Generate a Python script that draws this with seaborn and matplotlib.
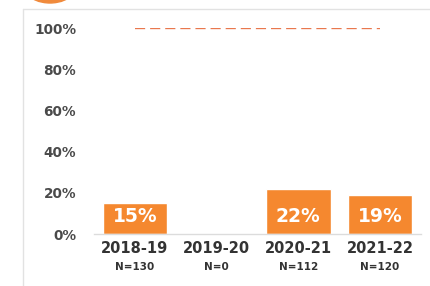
import numpy as np
import pandas as pd
import matplotlib
matplotlib.use("Agg")
import matplotlib.pyplot as plt
from matplotlib.patches import Ellipse
from matplotlib.lines import Line2D
from matplotlib.transforms import blended_transform_factory
import seaborn as sns

# chart data
years = ["2018-19", "2019-20", "2020-21", "2021-22"]
counts = ["N=130", "N=0", "N=112", "N=120"]
pct = [15, 0, 22, 19]
target = [100, 100, 100, 100]
yticks = [0, 20, 40, 60, 80, 100]

df = pd.DataFrame({"year": years, "pct": pct})

sns.set_style("white")
plt.rcParams['font.family'] = ['DejaVu Sans']

W, H = 431, 286
fig = plt.figure(figsize=(W / 100, H / 100), dpi=100)
ax = fig.add_axes([94 / W, (H - 234) / H, 327 / W, 206 / H])

orange = "#F5882F"
sns.barplot(data=df, x="year", y="pct", order=years, color=orange,
            width=0.79, saturation=1, ax=ax)

# dashed target line
ax.plot(range(len(years)), target, color="#E9784E", lw=1.7,
        linestyle=(0, (4.3, 2.1)), zorder=3)

# value labels inside the bars
for i, (v, n) in enumerate(zip(pct, counts)):
    if n == "N=0":
        continue
    ax.text(i, 8.6, f"{v}%", ha="center", va="center", color="white",
            fontsize=13.5, fontweight="bold")

ax.set_ylim(0, 100)
ax.set_xlim(-0.5, len(years) - 0.5)
ax.set_yticks(yticks)
ax.set_yticklabels([f"{t}%" for t in yticks], fontsize=9.8,
                   fontweight="bold", color="#4a4a4a")
ax.tick_params(axis="y", length=0, pad=13)
ax.set_xticks(range(len(years)))
ax.set_xticklabels(years, fontsize=10.5, fontweight="bold", color="#333333")
ax.tick_params(axis="x", length=0, pad=5)
ax.set_xlabel("")
ax.set_ylabel("")

# N counts under the year labels
trans = blended_transform_factory(ax.transData, ax.transAxes)
for i, n in enumerate(counts):
    ax.text(i, -33 / 206, n, transform=trans, ha="center", va="center",
            fontsize=7.5, fontweight="bold", color="#333333")

for s in ["left", "top", "right"]:
    ax.spines[s].set_visible(False)
ax.spines["bottom"].set_color("#dcdcdc")
ax.spines["bottom"].set_linewidth(1)

# card border and header circle
fig.add_artist(Line2D([23 / W, 23 / W], [0, 1 - 9 / H], color="#e2e2e2", lw=1))
fig.add_artist(Line2D([23 / W, 1], [1 - 9 / H, 1 - 9 / H], color="#e2e2e2", lw=1))
fig.add_artist(Ellipse((50 / W, 1 + 36 / H), 78 / W, 78 / H,
                       color="#F08A3C", zorder=5))

fig.savefig("out.png", dpi=100)
